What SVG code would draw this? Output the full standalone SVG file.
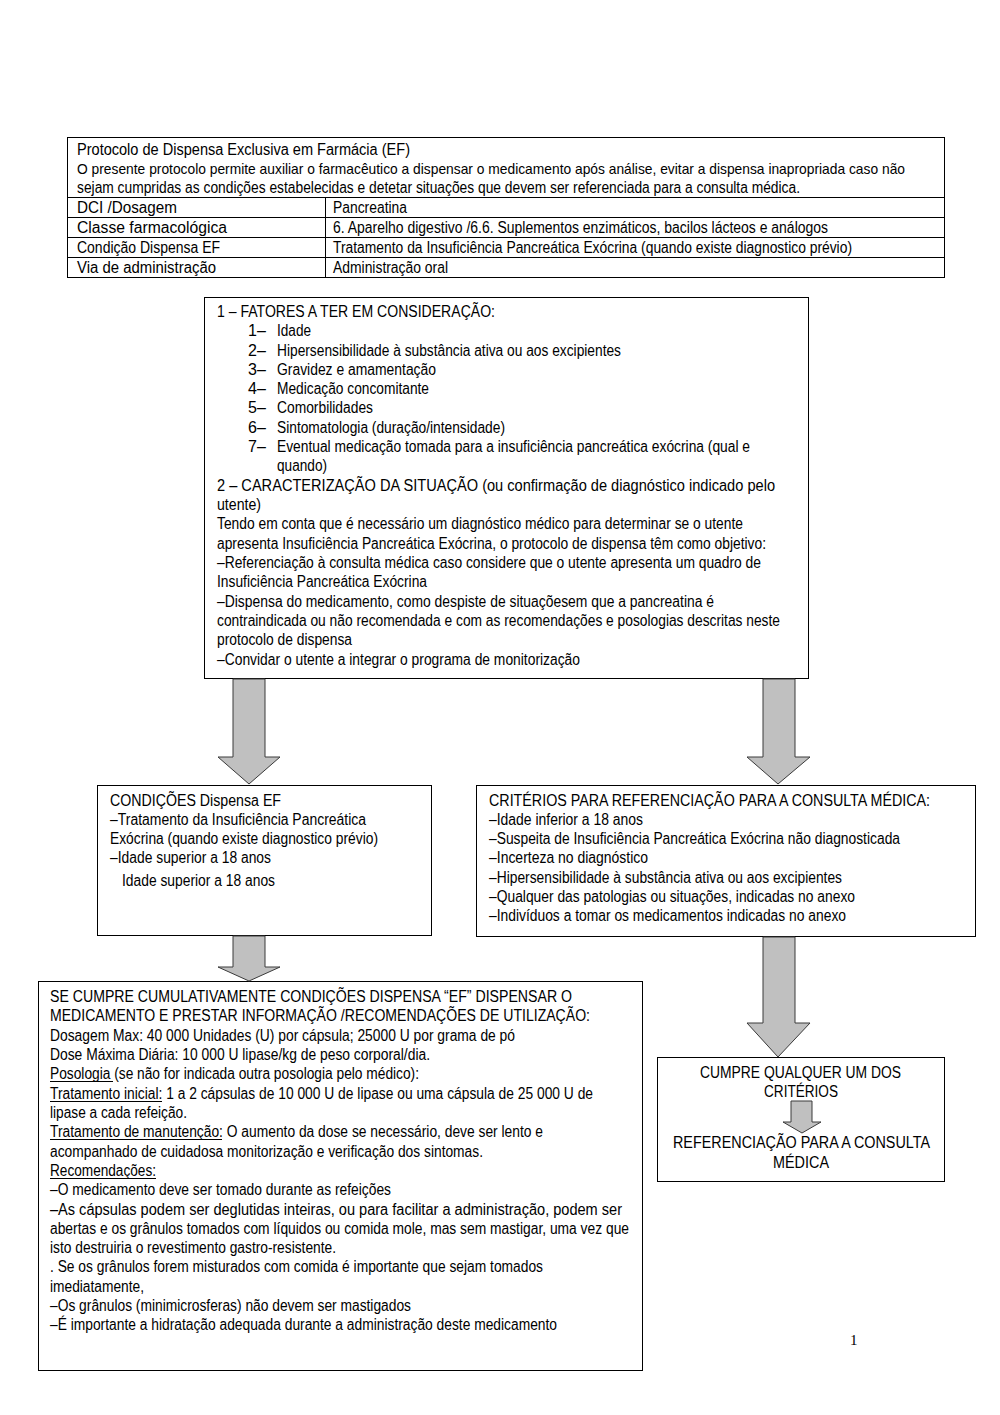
<svg xmlns="http://www.w3.org/2000/svg" width="1000" height="1415" viewBox="0 0 1000 1415">
<defs>
<style>
.t{font-family:"Liberation Sans",Arial,sans-serif;font-size:16px;fill:#000}
.box{fill:#fff;stroke:#000;stroke-width:1}
.arr{fill:#c0c0c0;stroke:#3a3a3a;stroke-width:1}
.ul{stroke:#000;stroke-width:1}
.pg{font-family:"Liberation Serif","Times New Roman",serif;font-size:15px;fill:#000}
</style>
</defs>
<rect x="0" y="0" width="1000" height="1415" fill="#fff"/>

<g id="header-table">
<rect class="box" x="67.5" y="137.5" width="877" height="140"/>
<line x1="67.5" y1="197.5" x2="944.5" y2="197.5" stroke="#000"/>
<line x1="67.5" y1="217.5" x2="944.5" y2="217.5" stroke="#000"/>
<line x1="67.5" y1="237.5" x2="944.5" y2="237.5" stroke="#000"/>
<line x1="67.5" y1="257.5" x2="944.5" y2="257.5" stroke="#000"/>
<line x1="325.5" y1="197.5" x2="325.5" y2="277.5" stroke="#000"/>
<text class="t" x="77" y="155" textLength="333" lengthAdjust="spacingAndGlyphs">Protocolo de Dispensa Exclusiva em Farmácia (EF)</text>
<text class="t" x="77" y="174" style="font-size:15px" textLength="828" lengthAdjust="spacingAndGlyphs">O presente protocolo permite auxiliar o farmacêutico a dispensar o medicamento após análise, evitar a dispensa inapropriada caso não</text>
<text class="t" x="77" y="193" textLength="723" lengthAdjust="spacingAndGlyphs">sejam cumpridas as condições estabelecidas e detetar situações que devem ser referenciada para a consulta médica.</text>
<text class="t" x="77" y="213" textLength="100" lengthAdjust="spacingAndGlyphs">DCI /Dosagem</text>
<text class="t" x="333" y="213" textLength="74" lengthAdjust="spacingAndGlyphs">Pancreatina</text>
<text class="t" x="77" y="233" textLength="150" lengthAdjust="spacingAndGlyphs">Classe farmacológica</text>
<text class="t" x="333" y="233" textLength="495" lengthAdjust="spacingAndGlyphs">6. Aparelho digestivo /6.6. Suplementos enzimáticos, bacilos lácteos e análogos</text>
<text class="t" x="77" y="253" textLength="143" lengthAdjust="spacingAndGlyphs">Condição Dispensa EF</text>
<text class="t" x="333" y="253" textLength="519" lengthAdjust="spacingAndGlyphs">Tratamento da Insuficiência Pancreática Exócrina (quando existe diagnostico prévio)</text>
<text class="t" x="77" y="273" textLength="139" lengthAdjust="spacingAndGlyphs">Via de administração</text>
<text class="t" x="333" y="273" textLength="115" lengthAdjust="spacingAndGlyphs">Administração oral</text>
</g>

<g id="node-fatores">
<rect class="box" x="204.5" y="297.5" width="604" height="381"/>
<text class="t" x="217" y="317" textLength="278" lengthAdjust="spacingAndGlyphs">1 – FATORES A TER EM CONSIDERAÇÃO:</text>
<text class="t" x="248" y="336">1–</text><text class="t" x="277" y="336" textLength="34" lengthAdjust="spacingAndGlyphs">Idade</text>
<text class="t" x="248" y="356">2–</text><text class="t" x="277" y="356" textLength="344" lengthAdjust="spacingAndGlyphs">Hipersensibilidade à substância ativa ou aos excipientes</text>
<text class="t" x="248" y="375">3–</text><text class="t" x="277" y="375" textLength="159" lengthAdjust="spacingAndGlyphs">Gravidez e amamentação</text>
<text class="t" x="248" y="394">4–</text><text class="t" x="277" y="394" textLength="152" lengthAdjust="spacingAndGlyphs">Medicação concomitante</text>
<text class="t" x="248" y="413">5–</text><text class="t" x="277" y="413" textLength="96" lengthAdjust="spacingAndGlyphs">Comorbilidades</text>
<text class="t" x="248" y="433">6–</text><text class="t" x="277" y="433" textLength="228" lengthAdjust="spacingAndGlyphs">Sintomatologia (duração/intensidade)</text>
<text class="t" x="248" y="452">7–</text><text class="t" x="277" y="452" textLength="473" lengthAdjust="spacingAndGlyphs">Eventual medicação tomada para a insuficiência pancreática exócrina (qual e</text>
<text class="t" x="277" y="471" textLength="50" lengthAdjust="spacingAndGlyphs">quando)</text>
<text class="t" x="217" y="491" textLength="558" lengthAdjust="spacingAndGlyphs">2 – CARACTERIZAÇÃO DA SITUAÇÃO (ou confirmação de diagnóstico indicado pelo</text>
<text class="t" x="217" y="510" textLength="44" lengthAdjust="spacingAndGlyphs">utente)</text>
<text class="t" x="217" y="529" textLength="526" lengthAdjust="spacingAndGlyphs">Tendo em conta que é necessário um diagnóstico médico para determinar se o utente</text>
<text class="t" x="217" y="549" textLength="549" lengthAdjust="spacingAndGlyphs">apresenta Insuficiência Pancreática Exócrina, o protocolo de dispensa têm como objetivo:</text>
<text class="t" x="217" y="568" textLength="544" lengthAdjust="spacingAndGlyphs">–Referenciação à consulta médica caso considere que o utente apresenta um quadro de</text>
<text class="t" x="217" y="587" textLength="210" lengthAdjust="spacingAndGlyphs">Insuficiência Pancreática Exócrina</text>
<text class="t" x="217" y="607" textLength="497" lengthAdjust="spacingAndGlyphs">–Dispensa do medicamento, como despiste de situaçõesem que a pancreatina é</text>
<text class="t" x="217" y="626" textLength="563" lengthAdjust="spacingAndGlyphs">contraindicada ou não recomendada e com as recomendações e posologias descritas neste</text>
<text class="t" x="217" y="645" textLength="135" lengthAdjust="spacingAndGlyphs">protocolo de dispensa</text>
<text class="t" x="217" y="665" textLength="363" lengthAdjust="spacingAndGlyphs">–Convidar o utente a integrar o programa de monitorização</text>
</g>

<g id="node-condicoes">
<rect class="box" x="97.5" y="785.5" width="334" height="150"/>
<text class="t" x="110" y="806" textLength="171" lengthAdjust="spacingAndGlyphs">CONDIÇÕES Dispensa EF</text>
<text class="t" x="110" y="825" textLength="256" lengthAdjust="spacingAndGlyphs">–Tratamento da Insuficiência Pancreática</text>
<text class="t" x="110" y="844" textLength="268" lengthAdjust="spacingAndGlyphs">Exócrina (quando existe diagnostico prévio)</text>
<text class="t" x="110" y="863" textLength="161" lengthAdjust="spacingAndGlyphs">–Idade superior a 18 anos</text>
<text class="t" x="122" y="886" textLength="153" lengthAdjust="spacingAndGlyphs">Idade superior a 18 anos</text>
</g>

<g id="node-criterios">
<rect class="box" x="476.5" y="785.5" width="499" height="151"/>
<text class="t" x="489" y="806" textLength="441" lengthAdjust="spacingAndGlyphs">CRITÉRIOS PARA REFERENCIAÇÃO PARA A CONSULTA MÉDICA:</text>
<text class="t" x="489" y="825" textLength="154" lengthAdjust="spacingAndGlyphs">–Idade inferior a 18 anos</text>
<text class="t" x="489" y="844" textLength="411" lengthAdjust="spacingAndGlyphs">–Suspeita de Insuficiência Pancreática Exócrina não diagnosticada</text>
<text class="t" x="489" y="863" textLength="159" lengthAdjust="spacingAndGlyphs">–Incerteza no diagnóstico</text>
<text class="t" x="489" y="883" textLength="353" lengthAdjust="spacingAndGlyphs">–Hipersensibilidade à substância ativa ou aos excipientes</text>
<text class="t" x="489" y="902" textLength="366" lengthAdjust="spacingAndGlyphs">–Qualquer das patologias ou situações, indicadas no anexo</text>
<text class="t" x="489" y="921" textLength="357" lengthAdjust="spacingAndGlyphs">–Indivíduos a tomar os medicamentos indicadas no anexo</text>
</g>

<g id="node-dispensar">
<rect class="box" x="38.5" y="981.5" width="604" height="389"/>
<text class="t" x="50" y="1002" textLength="522" lengthAdjust="spacingAndGlyphs">SE CUMPRE CUMULATIVAMENTE CONDIÇÕES DISPENSA “EF” DISPENSAR O</text>
<text class="t" x="50" y="1021" textLength="540" lengthAdjust="spacingAndGlyphs">MEDICAMENTO E PRESTAR INFORMAÇÃO /RECOMENDAÇÕES DE UTILIZAÇÃO:</text>
<text class="t" x="50" y="1041" textLength="465" lengthAdjust="spacingAndGlyphs">Dosagem Max: 40 000 Unidades (U) por cápsula; 25000 U por grama de pó</text>
<text class="t" x="50" y="1060" textLength="380" lengthAdjust="spacingAndGlyphs">Dose Máxima Diária: 10 000 U lipase/kg de peso corporal/dia.</text>
<text class="t" x="50" y="1079" textLength="369" lengthAdjust="spacingAndGlyphs">Posologia (se não for indicada outra posologia pelo médico):</text>
<line class="ul" x1="50" y1="1081.5" x2="113" y2="1081.5"/>
<text class="t" x="50" y="1099" textLength="543" lengthAdjust="spacingAndGlyphs">Tratamento inicial: 1 a 2 cápsulas de 10 000 U de lipase ou uma cápsula de 25 000 U de</text>
<line class="ul" x1="50" y1="1101.5" x2="162" y2="1101.5"/>
<text class="t" x="50" y="1118" textLength="137" lengthAdjust="spacingAndGlyphs">lipase a cada refeição.</text>
<text class="t" x="50" y="1137" textLength="493" lengthAdjust="spacingAndGlyphs">Tratamento de manutenção: O aumento da dose se necessário, deve ser lento e</text>
<line class="ul" x1="50" y1="1139.5" x2="222" y2="1139.5"/>
<text class="t" x="50" y="1157" textLength="433" lengthAdjust="spacingAndGlyphs">acompanhado de cuidadosa monitorização e verificação dos sintomas.</text>
<text class="t" x="50" y="1176" textLength="106" lengthAdjust="spacingAndGlyphs">Recomendações:</text>
<line class="ul" x1="50" y1="1178.5" x2="156" y2="1178.5"/>
<text class="t" x="50" y="1195" textLength="341" lengthAdjust="spacingAndGlyphs">–O medicamento deve ser tomado durante as refeições</text>
<text class="t" x="50" y="1215" textLength="572" lengthAdjust="spacingAndGlyphs">–As cápsulas podem ser deglutidas inteiras, ou para facilitar a administração, podem ser</text>
<text class="t" x="50" y="1234" textLength="579" lengthAdjust="spacingAndGlyphs">abertas e os grânulos tomados com líquidos ou comida mole, mas sem mastigar, uma vez que</text>
<text class="t" x="50" y="1253" textLength="286" lengthAdjust="spacingAndGlyphs">isto destruiria o revestimento gastro-resistente.</text>
<text class="t" x="50" y="1272" textLength="493" lengthAdjust="spacingAndGlyphs">. Se os grânulos forem misturados com comida é importante que sejam tomados</text>
<text class="t" x="50" y="1292" textLength="94" lengthAdjust="spacingAndGlyphs">imediatamente,</text>
<text class="t" x="50" y="1311" textLength="361" lengthAdjust="spacingAndGlyphs">–Os grânulos (minimicrosferas) não devem ser mastigados</text>
<text class="t" x="50" y="1330" textLength="507" lengthAdjust="spacingAndGlyphs">–É importante a hidratação adequada durante a administração deste medicamento</text>
</g>

<g id="node-referenciacao">
<rect class="box" x="657.5" y="1057.5" width="287" height="124"/>
<text class="t" x="700" y="1078" textLength="201" lengthAdjust="spacingAndGlyphs">CUMPRE QUALQUER UM DOS</text>
<text class="t" x="764" y="1097" textLength="74" lengthAdjust="spacingAndGlyphs">CRITÉRIOS</text>
<text class="t" x="673" y="1148" textLength="257" lengthAdjust="spacingAndGlyphs">REFERENCIAÇÃO PARA A CONSULTA</text>
<text class="t" x="773" y="1168" textLength="56" lengthAdjust="spacingAndGlyphs">MÉDICA</text>
</g>

<g id="connectors">
<polygon class="arr" points="233,679 265,679 265,757 280,757 249,784 218,757 233,757"/>
<polygon class="arr" points="763,679 795,679 795,757 810,757 778,784 747,757 763,757"/>
<polygon class="arr" points="233,936 265,936 265,967 280,967 249,981 218,967 233,967"/>
<polygon class="arr" points="763,937 795,937 795,1023 810,1023 778,1057 747,1023 763,1023"/>
<polygon class="arr" points="791,1101 812,1101 812,1122 821,1122 802,1133 783,1122 791,1122"/>
</g>

<text class="pg" x="850" y="1345">1</text>
</svg>
